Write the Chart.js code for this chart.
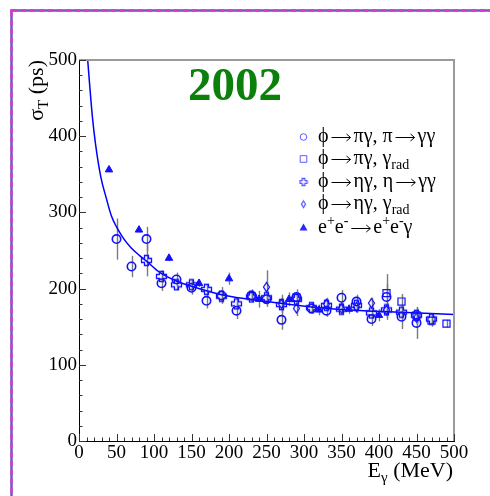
<!DOCTYPE html>
<html>
<head>
<meta charset="utf-8">
<script src="https://cdn.jsdelivr.net/npm/chart.js@4.4.1/dist/chart.umd.min.js"></script>
<style>
  html, body { margin: 0; padding: 0; background: #fff; }
  #wrap { width: 490px; height: 496px; }
</style>
</head>
<body>
<div id="wrap"><canvas id="timing" width="490" height="496"></canvas></div>
<script>
// photon energy (MeV), time resolution (ps) and error per sample
const piggE   = [50, 70, 90, 110, 130, 150, 170, 190, 210, 230, 250, 270, 290, 310, 330, 350, 370, 390, 410, 430, 450];
const piggT   = [265, 229, 265, 207, 212, 201, 184, 191, 171, 191, 186, 159, 189, 174, 171, 188, 183, 160, 189, 163, 155];
const piggErr = [27, 14, 16, 10, 9, 9, 10, 11, 11, 8, 10, 13, 10, 7, 8, 10, 9, 9, 30, 16, 21];

const piradE   = [230, 290, 410, 430, 450, 470, 490];
const piradT   = [190, 188, 194, 183, 165, 158, 154];
const piradErr = [6, 6, 12, 10, 10, 8, 5];

const etaggE   = [90, 110, 130, 150, 170, 190, 210, 230, 250, 270, 290, 310, 330, 350, 370, 390, 410, 430, 450, 470];
const etaggT   = [237, 216, 205, 205, 199, 190, 180, 189, 188, 179, 186, 175, 178, 173, 178, 168, 172, 169, 165, 160];
const etaggErr = [21, 8, 7, 7, 7, 8, 8, 7, 9, 9, 8, 7, 7, 7, 7, 8, 8, 8, 8, 7];

const etaradE   = [250, 270, 290, 330, 350, 370, 390, 410, 450];
const etaradT   = [202, 180, 174, 180, 174, 176, 181, 172, 162];
const etaradErr = [22, 12, 10, 8, 8, 8, 7, 10, 10];

const eeE   = [40, 80, 120, 160, 200, 240, 280, 320, 360, 400];
const eeT   = [356, 277, 240, 207, 213, 186, 186, 172, 173, 165];
const eeErr = [3, 3, 4, 5, 8, 11, 9, 7, 6, 8];

// fitted resolution curve
const fitE = [11.6, 14, 17.8, 22, 29, 36, 43, 50, 60, 70, 80, 90, 108, 130, 150, 190, 250, 310, 360, 430, 500];
const fitT = [500, 470, 426, 390, 347, 320, 296, 281, 265, 253, 244, 236, 221, 210, 203, 192, 183, 176, 172, 169, 166];

const xTicks = [0, 50, 100, 150, 200, 250, 300, 350, 400, 450, 500];
const yTicks = [0, 100, 200, 300, 400, 500];

const BLUE = '#1010ff';
const SERIF = '"Liberation Serif", "DejaVu Serif", serif';

function pts(xs, ys) {
    return xs.map(function (x, i) { return { x: x, y: ys[i] }; });
}

// open plus-shaped marker
function makeCross(half, arm, color) {
    const c = document.createElement('canvas');
    const s = Math.ceil(half * 2 + 3);
    c.width = s; c.height = s;
    const g = c.getContext('2d');
    const o = s / 2;
    g.strokeStyle = color;
    g.lineWidth = 1.3;
    g.beginPath();
    g.moveTo(o - arm, o - half); g.lineTo(o + arm, o - half); g.lineTo(o + arm, o - arm);
    g.lineTo(o + half, o - arm); g.lineTo(o + half, o + arm); g.lineTo(o + arm, o + arm);
    g.lineTo(o + arm, o + half); g.lineTo(o - arm, o + half); g.lineTo(o - arm, o + arm);
    g.lineTo(o - half, o + arm); g.lineTo(o - half, o - arm); g.lineTo(o - arm, o - arm);
    g.closePath();
    g.stroke();
    return c;
}

// open diamond, taller than wide
function makeDiamond(w, h, color) {
    const c = document.createElement('canvas');
    c.width = Math.ceil(w + 3); c.height = Math.ceil(h + 3);
    const g = c.getContext('2d');
    const cx = c.width / 2, cy = c.height / 2;
    g.strokeStyle = color;
    g.lineWidth = 1.3;
    g.beginPath();
    g.moveTo(cx, cy - h / 2); g.lineTo(cx + w / 2, cy); g.lineTo(cx, cy + h / 2); g.lineTo(cx - w / 2, cy);
    g.closePath();
    g.stroke();
    return c;
}

const crossImg = makeCross(5, 2, BLUE);
const diamondImg = makeDiamond(6, 9, BLUE);

const errorSets = [
    { xs: piggE, ys: piggT, err: piggErr },
    { xs: piradE, ys: piradT, err: piradErr },
    { xs: etaggE, ys: etaggT, err: etaggErr },
    { xs: etaradE, ys: etaradT, err: etaradErr },
    { xs: eeE, ys: eeT, err: eeErr }
];

// text with sub/superscripts and long arrows:
// parts = [[text, 'n'|'sub'|'sup'|'arrow'], ...]
const ARROW_W = 25;
function partFont(kind, size) {
    return (kind === 'sub' || kind === 'sup' ? Math.round(size * 0.68) : size) + 'px ' + SERIF;
}
function richWidth(ctx, parts, size) {
    let w = 0;
    parts.forEach(function (p) {
        if (p[1] === 'arrow') { w += ARROW_W; return; }
        ctx.font = partFont(p[1], size);
        w += ctx.measureText(p[0]).width;
    });
    return w;
}
function drawRich(ctx, x, y, parts, size) {
    ctx.textBaseline = 'middle';
    ctx.textAlign = 'left';
    parts.forEach(function (p) {
        if (p[1] === 'arrow') {
            const ay = Math.round(y) + 0.5;
            ctx.save();
            ctx.strokeStyle = ctx.fillStyle;
            ctx.lineWidth = 1;
            ctx.beginPath();
            ctx.moveTo(x + 3, ay); ctx.lineTo(x + ARROW_W - 3, ay);
            ctx.moveTo(x + ARROW_W - 7, ay - 3.5); ctx.lineTo(x + ARROW_W - 3, ay); ctx.lineTo(x + ARROW_W - 7, ay + 3.5);
            ctx.stroke();
            ctx.restore();
            x += ARROW_W;
            return;
        }
        let dy = 0;
        if (p[1] === 'sub') dy = size * 0.3;
        if (p[1] === 'sup') dy = -size * 0.35;
        ctx.font = partFont(p[1], size);
        ctx.fillText(p[0], x, y + dy);
        x += ctx.measureText(p[0]).width;
    });
}

const AR = ['', 'arrow'];
const legendRows = [
    { y: 137, mark: 'circle', parts: [['ϕ', 'n'], AR, ['πγ, π', 'n'], AR, ['γγ', 'n']] },
    { y: 159, mark: 'square', parts: [['ϕ', 'n'], AR, ['πγ, γ', 'n'], ['rad', 'sub']] },
    { y: 182, mark: 'cross', parts: [['ϕ', 'n'], AR, ['ηγ, η', 'n'], AR, ['γγ', 'n']] },
    { y: 204, mark: 'diamond', parts: [['ϕ', 'n'], AR, ['ηγ, γ', 'n'], ['rad', 'sub']] },
    { y: 228, mark: 'triangle', parts: [['e', 'n'], ['+', 'sup'], ['e', 'n'], ['-', 'sup'], AR, ['e', 'n'], ['+', 'sup'], ['e', 'n'], ['-', 'sup'], ['γ', 'n']] }
];

function legendMark(ctx, kind, x, y) {
    ctx.save();
    ctx.strokeStyle = '#5a5aff';
    ctx.fillStyle = '#2a2aff';
    ctx.lineWidth = 1;
    ctx.beginPath();
    if (kind === 'circle') {
        ctx.arc(x, y, 3.3, 0, Math.PI * 2); ctx.stroke();
    } else if (kind === 'square') {
        ctx.rect(x - 3.3, y - 3.3, 6.6, 6.6); ctx.stroke();
    } else if (kind === 'cross') {
        ctx.drawImage(makeCross(3.5, 1.4, '#5a5aff'), x - 5, y - 5);
    } else if (kind === 'diamond') {
        ctx.drawImage(makeDiamond(4, 6.5, '#5a5aff'), x - 3.5, y - 4.75);
    } else {
        ctx.moveTo(x, y - 4.5); ctx.lineTo(x + 4, y + 2.5); ctx.lineTo(x - 4, y + 2.5); ctx.closePath(); ctx.fill();
    }
    ctx.restore();
}

const decorations = {
    id: 'decorations',
    beforeDraw: function (chart) {
        const ctx = chart.ctx;
        // dashed page frame
        ctx.save();
        ctx.lineWidth = 2.4;
        ctx.strokeStyle = '#5b5fb0';
        ctx.strokeRect(11.5, 10.5, 600, 600);
        ctx.setLineDash([6, 3]);
        ctx.strokeStyle = '#d23ad2';
        ctx.strokeRect(11.5, 10.5, 600, 600);
        ctx.restore();
    },
    beforeDatasetsDraw: function (chart) {
        const ctx = chart.ctx;
        const xs = chart.scales.x, ys = chart.scales.y;
        const a = chart.chartArea;
        ctx.save();
        ctx.beginPath();
        ctx.rect(a.left, a.top, a.right - a.left, a.bottom - a.top);
        ctx.clip();
        ctx.strokeStyle = '#7a7a7a';
        ctx.lineWidth = 1.4;
        errorSets.forEach(function (s) {
            s.xs.forEach(function (e, i) {
                const px = Math.round(xs.getPixelForValue(e)) + 0.5;
                ctx.beginPath();
                ctx.moveTo(px, ys.getPixelForValue(s.ys[i] + s.err[i]));
                ctx.lineTo(px, ys.getPixelForValue(s.ys[i] - s.err[i]));
                ctx.stroke();
            });
        });
        ctx.restore();
    },
    afterDraw: function (chart) {
        const ctx = chart.ctx;
        const xs = chart.scales.x, ys = chart.scales.y;
        const a = chart.chartArea;
        ctx.save();
        // top and right frame lines
        ctx.strokeStyle = '#9a9a9a';
        ctx.lineWidth = 2;
        ctx.beginPath();
        ctx.moveTo(a.left, a.top);
        ctx.lineTo(a.right, a.top);
        ctx.lineTo(a.right, a.bottom);
        ctx.stroke();

        // inward ticks
        ctx.strokeStyle = '#333';
        ctx.lineWidth = 1;
        for (let v = 0; v <= 500; v += 20) {
            const py = Math.round(ys.getPixelForValue(v)) + 0.5;
            const len = v % 100 === 0 ? 7 : 3.5;
            ctx.beginPath(); ctx.moveTo(a.left, py); ctx.lineTo(a.left + len, py); ctx.stroke();
        }
        for (let v = 0; v <= 500; v += 10) {
            const px = Math.round(xs.getPixelForValue(v)) + 0.5;
            const len = v % 50 === 0 ? 7 : 3.5;
            ctx.beginPath(); ctx.moveTo(px, a.bottom); ctx.lineTo(px, a.bottom - len); ctx.stroke();
        }

        // year label
        ctx.fillStyle = '#0b800b';
        ctx.font = 'bold 47px ' + SERIF;
        ctx.textAlign = 'center';
        ctx.textBaseline = 'alphabetic';
        ctx.fillText('2002', 235, 100);

        // legend
        legendRows.forEach(function (r) {
            legendMark(ctx, r.mark, 303.5, r.y);
            ctx.fillStyle = '#000';
            drawRich(ctx, 318, r.y, r.parts, 20);
        });

        // axis titles
        ctx.fillStyle = '#000';
        const xt = [['E', 'n'], ['γ', 'sub'], [' (MeV)', 'n']];
        const xw = richWidth(ctx, xt, 22);
        drawRich(ctx, 453 - xw, 471, xt, 22);

        const yt = [['σ', 'n'], ['T', 'sub'], [' (ps)', 'n']];
        const yw = richWidth(ctx, yt, 22);
        ctx.translate(37, 60 + yw);
        ctx.rotate(-Math.PI / 2);
        drawRich(ctx, 0, 0, yt, 22);
        ctx.restore();
    }
};

const tickFont = { family: SERIF, size: 19 };

new Chart(document.getElementById('timing').getContext('2d'), {
    type: 'scatter',
    data: {
        datasets: [
            {
                label: 'fit',
                type: 'line',
                data: pts(fitE, fitT),
                borderColor: '#0000ff',
                borderWidth: 1.5,
                pointRadius: 0,
                fill: false,
                cubicInterpolationMode: 'monotone',
                order: 10
            },
            {
                label: 'ϕ → πγ, π → γγ',
                data: pts(piggE, piggT),
                pointStyle: 'circle',
                pointRadius: 4.2,
                borderColor: BLUE,
                backgroundColor: 'rgba(0,0,0,0)',
                borderWidth: 1.6,
                order: 1
            },
            {
                label: 'ϕ → πγ, γrad',
                data: pts(piradE, piradT),
                pointStyle: 'rect',
                pointRadius: 5,
                borderColor: BLUE,
                backgroundColor: 'rgba(0,0,0,0)',
                borderWidth: 1.2,
                order: 2
            },
            {
                label: 'ϕ → ηγ, η → γγ',
                data: pts(etaggE, etaggT),
                pointStyle: crossImg,
                order: 3
            },
            {
                label: 'ϕ → ηγ, γrad',
                data: pts(etaradE, etaradT),
                pointStyle: diamondImg,
                order: 4
            },
            {
                label: 'e+e- → e+e-γ',
                data: pts(eeE, eeT),
                pointStyle: 'triangle',
                pointRadius: 4.3,
                borderColor: BLUE,
                backgroundColor: BLUE,
                borderWidth: 1,
                order: 0
            }
        ]
    },
    options: {
        responsive: false,
        animation: false,
        devicePixelRatio: 1,
        layout: { padding: { top: 60, right: 36, left: 0, bottom: 0 } },
        plugins: {
            legend: { display: false },
            tooltip: { enabled: false }
        },
        scales: {
            x: {
                type: 'linear',
                min: 0,
                max: 500,
                grid: { display: false, drawTicks: false },
                border: { color: '#000', width: 1 },
                afterBuildTicks: function (s) { s.ticks = xTicks.map(function (v) { return { value: v }; }); },
                ticks: { color: '#000', font: tickFont, padding: 1, maxRotation: 0, autoSkip: false },
                afterFit: function (s) { s.height = 55; }
            },
            y: {
                type: 'linear',
                min: 0,
                max: 500,
                grid: { display: false, drawTicks: false },
                border: { color: '#000', width: 1 },
                afterBuildTicks: function (s) { s.ticks = yTicks.map(function (v) { return { value: v }; }); },
                ticks: { color: '#000', font: tickFont, padding: 2 },
                afterFit: function (s) { s.width = 79; }
            }
        }
    },
    plugins: [decorations]
});
</script>
</body>
</html>
